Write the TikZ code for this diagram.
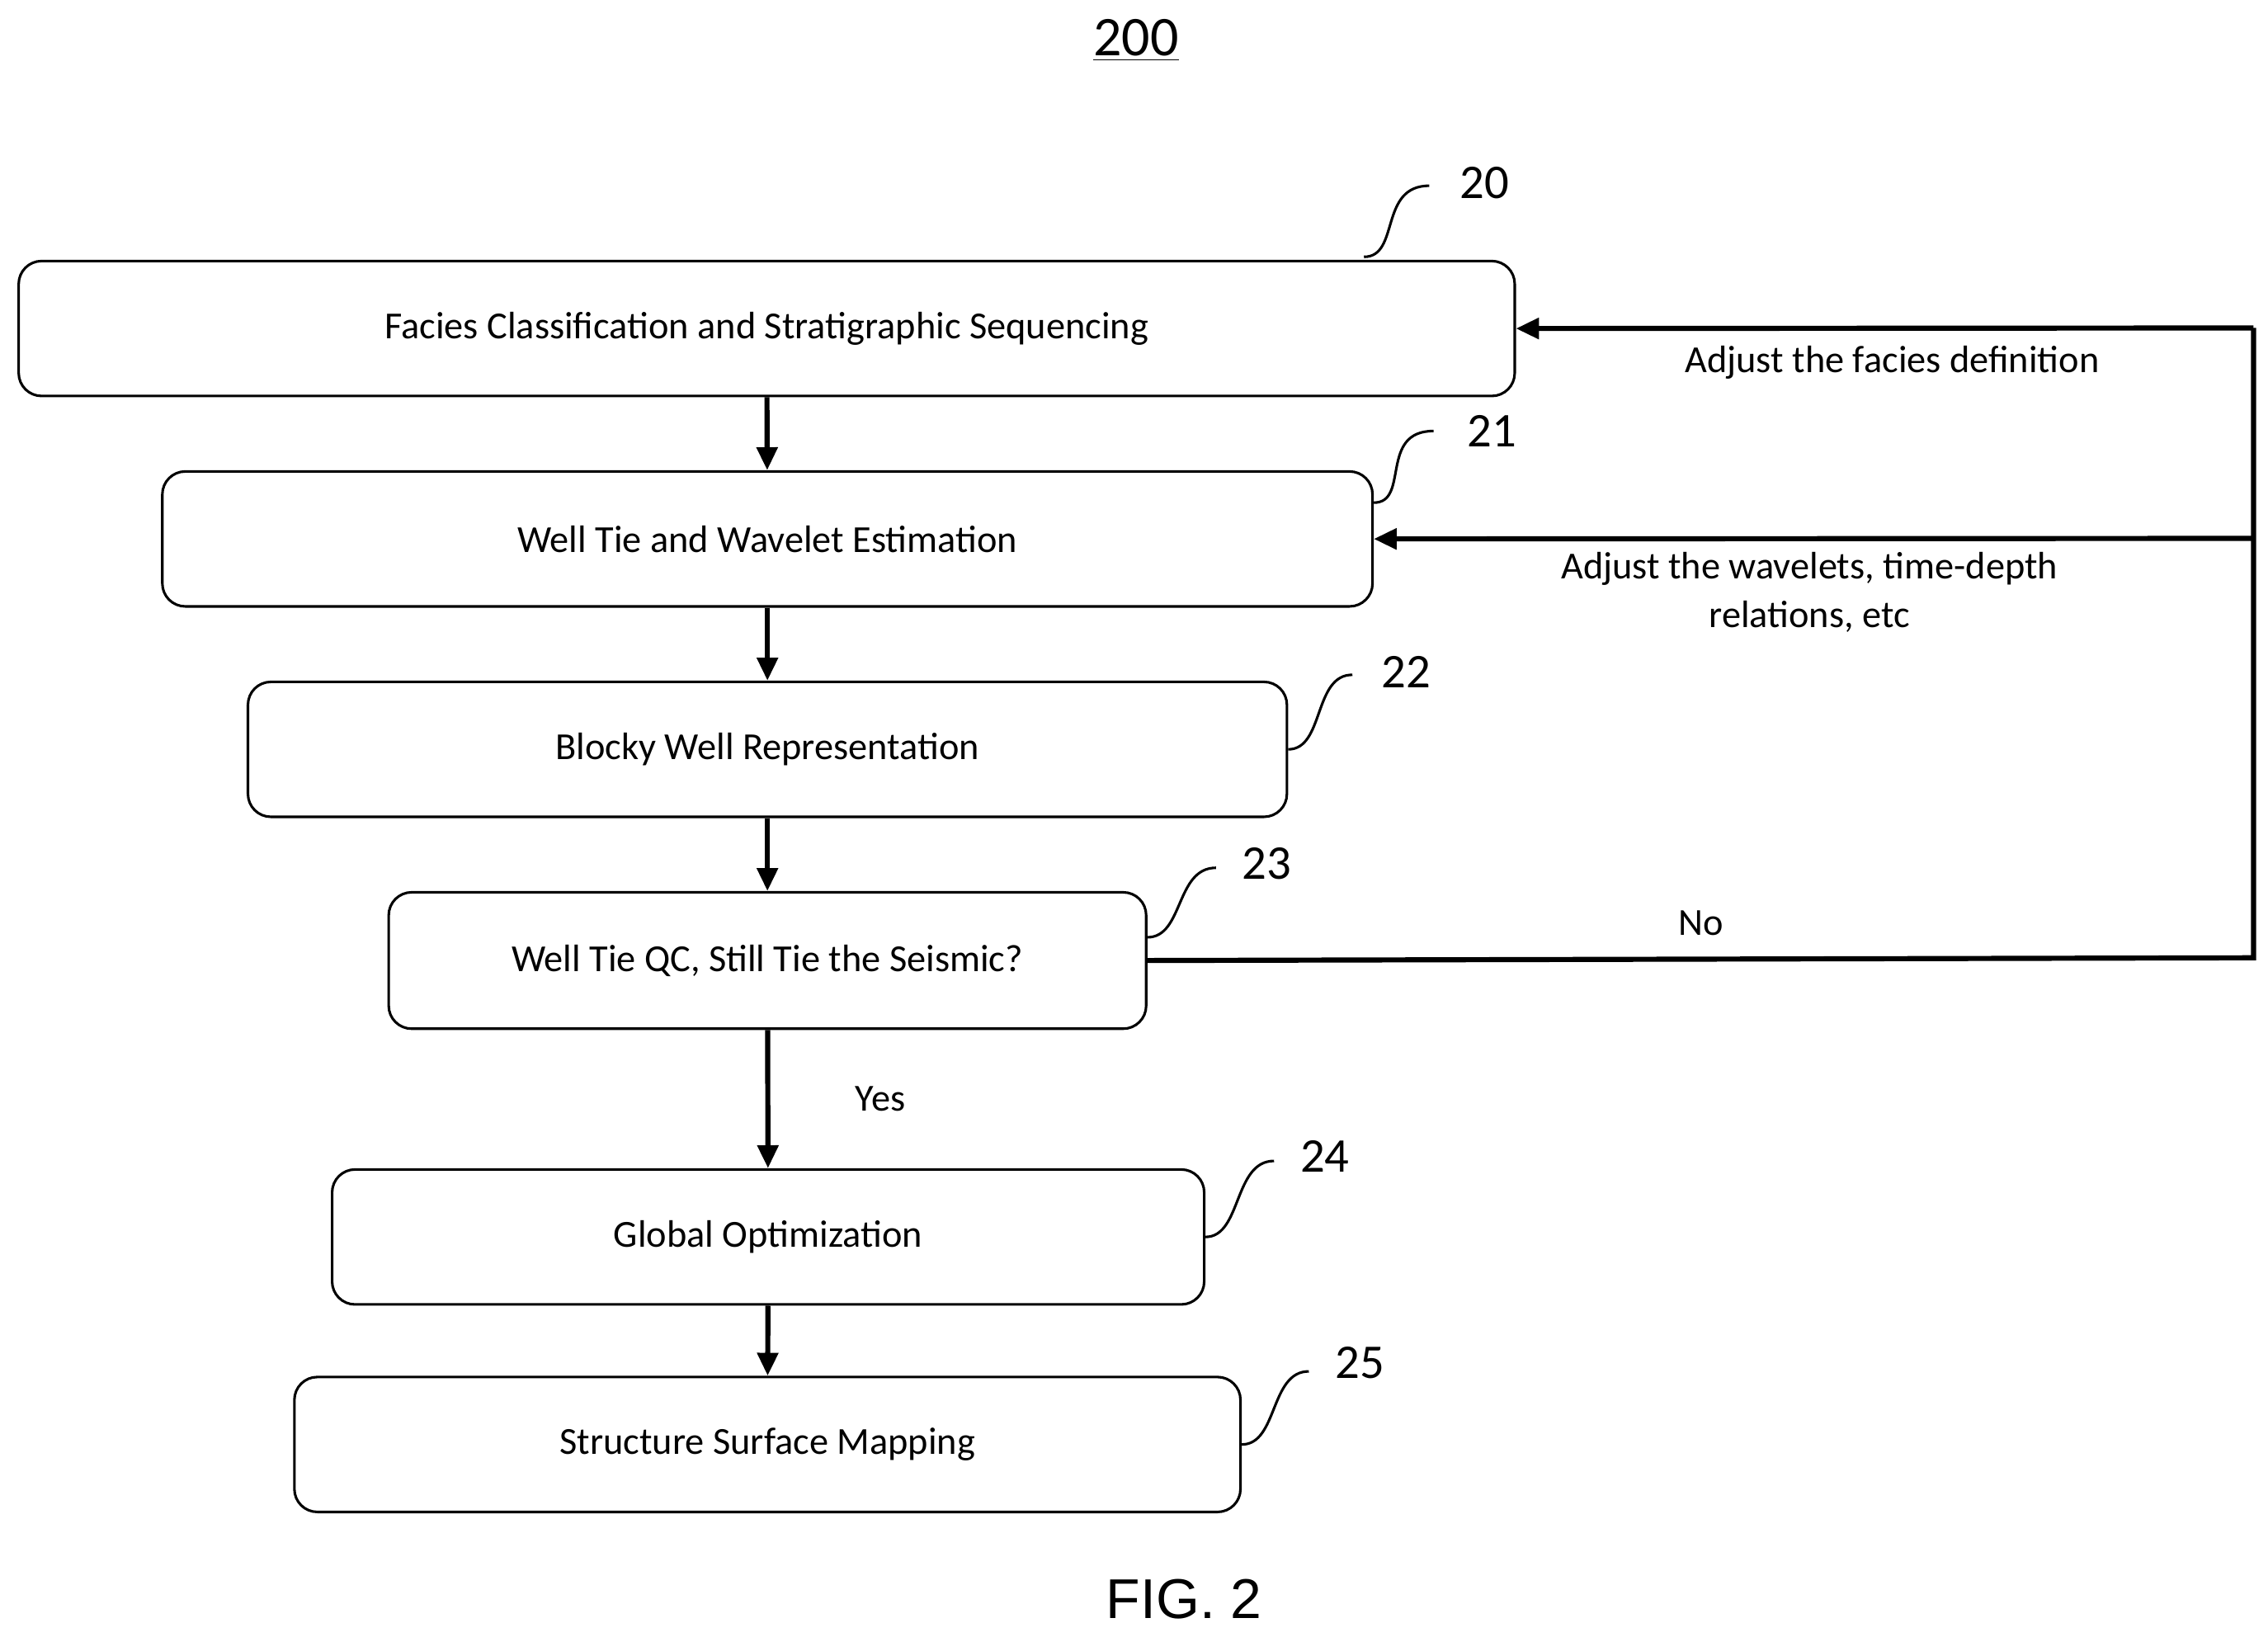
\documentclass[tikz,border=0pt]{standalone}
\usepackage{fontspec}
\setmainfont{Carlito}
\newfontfamily\figfont{Liberation Sans}
\usetikzlibrary{arrows.meta,positioning}
\tikzset{
  block/.style={draw,line width=1pt,rounded corners=9pt,anchor=north west,inner sep=0pt,font=\fontsize{15}{18}\selectfont},
  flow/.style={line width=2pt,-{Triangle[length=9pt,width=8pt]}},
  ref/.style={font=\fontsize{19}{22}\selectfont},
  tag/.style={font=\fontsize{15}{19}\selectfont,align=center},
  squig/.style={line width=1pt}
}
\begin{document}
\begin{tikzpicture}[x=0.02cm,y=-0.02cm]
  \useasboundingbox (0,0) rectangle (1563,1128);

  \node [font=\fontsize{22}{26}\selectfont] (title) at (783,28) {\underline{200}};

  \node [block,minimum width=1031*0.02cm,minimum height=93*0.02cm] (s20) at (12,179) {Facies Classification and Stratigraphic Sequencing};
  \node [block,minimum width=834*0.02cm,minimum height=93*0.02cm] (s21) at (111,324) {Well Tie and Wavelet Estimation};
  \node [block,minimum width=716*0.02cm,minimum height=93*0.02cm] (s22) at (170,469) {Blocky Well Representation};
  \node [block,minimum width=522*0.02cm,minimum height=94*0.02cm] (s23) at (267,614) {Well Tie QC, Still Tie the Seismic?};
  \node [block,minimum width=601*0.02cm,minimum height=93*0.02cm] (s24) at (228,805) {Global Optimization};
  \node [block,minimum width=652*0.02cm,minimum height=93*0.02cm] (s25) at (202,948) {Structure Surface Mapping};

  % numbers
  \node [ref] (n20) at (1023,126) {20};
  \node [ref] (n21) at (1028,297) {21};
  \node [ref] (n22) at (969,463) {22};
  \node [ref] (n23) at (873,595) {23};
  \node [ref] (n24) at (913,797) {24};
  \node [ref] (n25) at (937,939) {25};

  \draw [squig] (940,177) .. controls (965,177) and (950,128) .. (985,128);
  \draw [squig] (s21.east) ++(0,-25) .. controls +(25,0) and (950,297) .. (988,297);
  \draw [squig] (s22.east) .. controls +(25,0) and (905,465) .. (932,465);
  \draw [squig] (s23.east) ++(0,-16) .. controls +(25,0) and (810,598) .. (838,598);
  \draw [squig] (s24.east) .. controls +(25,0) and (850,800) .. (878,800);
  \draw [squig] (s25.east) .. controls +(25,0) and (875,945) .. (902,945);

  % main flow
  \draw [flow] (s20) -- (s21);
  \draw [flow] (s21) -- (s22);
  \draw [flow] (s22) -- (s23);
  \draw [flow] (s23) -- (s24) node [midway,right=30pt,tag] {Yes};
  \draw [flow] (s24) -- (s25);

  % feedback loop
  \coordinate (rb) at (1553,660);
  \coordinate (rt) at (1553,226);
  \coordinate (rm) at (1553,371);
  \draw [line width=2pt] (s23.east) -- (rb) -- (rt);
  \draw [flow] (rt) -- (s20.east);
  \draw [flow] (rm) -- (s21.east);

  \node [tag] (l20) at (1304,250) {Adjust the facies definition};
  \node [tag] (l21) at (1247,408) {Adjust the wavelets, time-depth\\relations, etc};
  \node [tag] (lno) at (1172,636) {No};

  \node [font=\figfont\fontsize{22}{26}\selectfont] (fig) at (816,1102) {FIG. 2};
\end{tikzpicture}
\end{document}
